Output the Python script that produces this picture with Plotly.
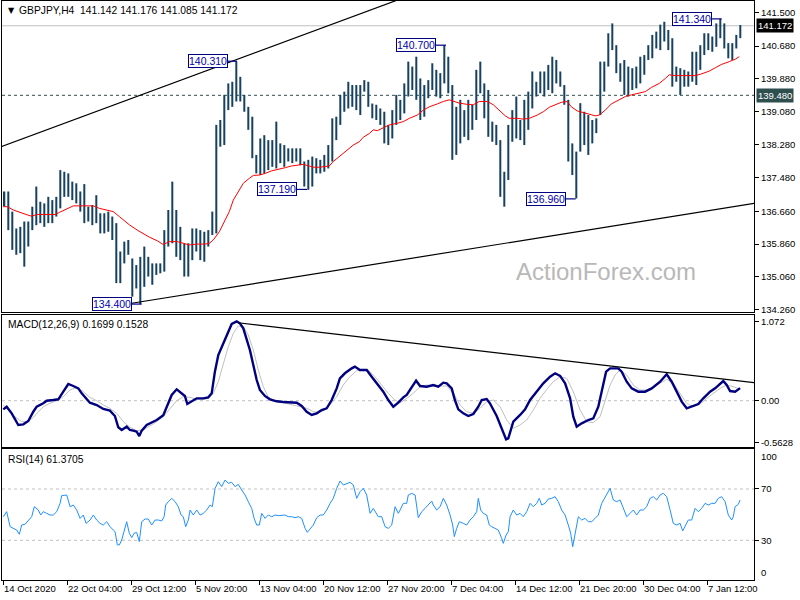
import plotly.graph_objects as go

# ---------------- data ----------------
# GBPJPY H4, each entry = one group of two consecutive H4 bars (high / low)
bar_high = [
    137.14, 137.14, 136.65, 136.24, 136.28, 136.41, 136.41, 136.77, 137.26, 136.89,
    136.85, 137.01, 136.93, 137.01, 137.66, 137.62, 137.58, 137.38, 137.34, 137.14,
    137.32, 136.77, 136.81, 137.05, 136.61, 136.61, 136.65, 136.53, 136.37, 135.68,
    135.92, 135.96, 135.51, 135.35, 135.55, 135.80, 135.55, 135.39, 135.39, 135.39,
    136.20, 136.69, 137.38, 136.69, 136.28, 135.88, 135.88,
    136.24, 136.24, 136.20, 136.16, 136.20, 136.65, 138.76, 138.88, 139.49, 139.77,
    139.81, 140.31, 139.93, 139.49, 139.20, 138.96, 138.03, 138.43, 138.51, 138.39,
    138.39, 138.84, 138.31, 138.27, 138.19, 138.19, 138.19, 138.19, 137.87, 137.91,
    137.99, 137.95, 137.91, 138.03, 138.27, 138.92, 138.96, 139.49, 139.57, 139.81,
    139.73, 139.73, 139.73, 139.85, 139.81, 139.28,
    139.25, 139.16, 139.08, 138.76, 139.12, 139.49, 139.37, 139.77, 140.30, 140.18,
    140.42, 139.89, 139.73, 139.85, 140.26, 140.10, 140.02, 140.70, 140.42, 139.73,
    139.20, 139.37, 139.12, 139.37, 139.25, 140.10, 140.30, 139.77, 139.61, 138.84,
    138.76, 138.39, 137.62, 138.76, 139.12, 139.45, 138.88, 139.37, 139.57, 140.06,
    139.81, 140.06, 140.06, 140.22, 140.42, 140.34,
    140.06,
    139.73, 139.37, 138.31, 138.11, 139.29, 139.08, 139.00, 138.88, 138.92, 140.30,
    140.30, 140.99, 141.23, 140.70, 140.26, 140.34, 140.18, 140.14, 140.18, 140.42,
    140.46, 140.70, 140.95, 141.03, 141.20, 141.27, 141.07, 140.87, 140.18, 140.14,
    140.10, 140.06, 140.54, 140.54, 140.70, 140.99, 140.99, 140.91, 141.23, 141.34,
    141.23, 140.75, 140.75, 140.95, 141.19,
]
bar_low = [
    136.77, 136.20, 135.72, 135.60, 135.64, 135.31, 135.80, 136.20, 136.32, 136.37,
    136.28, 136.37, 136.37, 136.53, 136.73, 137.01, 137.01, 136.93, 136.85, 136.65,
    136.37, 136.41, 136.32, 136.37, 136.12, 136.12, 136.16, 135.96, 134.91, 134.91,
    135.39, 135.60, 134.58, 134.78, 134.40, 134.82, 135.07, 134.87, 135.11, 135.15,
    135.19, 135.80, 135.88, 135.55, 135.47, 135.07, 135.07,
    135.47, 135.68, 135.47, 135.43, 135.80, 136.08, 136.12, 138.23, 138.27, 139.12,
    139.20, 139.33, 139.33, 139.08, 138.64, 137.95, 137.58, 137.54, 137.58, 137.66,
    137.74, 137.70, 137.83, 137.74, 137.87, 137.83, 137.87, 137.78, 137.26, 137.18,
    137.26, 137.58, 137.58, 137.62, 137.70, 137.87, 138.39, 138.76, 139.08, 139.16,
    139.20, 139.12, 139.00, 139.57, 139.20, 138.92,
    138.88, 138.76, 138.31, 138.27, 138.43, 138.76, 138.88, 139.04, 139.45, 139.61,
    139.37, 138.88, 138.96, 139.41, 139.61, 139.45, 139.41, 139.77, 139.53, 137.91,
    138.03, 138.31, 138.47, 138.39, 138.64, 138.88, 139.53, 138.92, 138.47, 138.35,
    138.27, 137.01, 136.77, 137.42, 138.35, 138.43, 138.39, 138.27, 138.64, 139.16,
    139.45, 139.53, 139.45, 139.61, 139.53, 139.77,
    139.69,
    139.25, 137.87, 137.54, 136.97, 138.11, 138.27, 138.03, 138.31, 138.56, 139.00,
    139.57, 140.18, 140.58, 140.02, 139.81, 139.49, 139.45, 139.61, 139.65, 139.77,
    139.98, 140.34, 140.38, 140.62, 140.58, 140.79, 140.58, 139.69, 139.81, 139.49,
    139.69, 139.69, 139.81, 139.73, 140.10, 140.46, 140.58, 140.54, 140.66, 140.87,
    140.62, 140.38, 140.34, 140.62, 140.87,
]

# moving average (red) : bar index, price
ma_x = [0, 2, 5, 8, 12, 14, 17, 20, 23, 26, 28, 32, 35, 38, 42, 45, 48, 52, 55, 58,
        60, 63, 67, 70, 73, 77, 80, 83, 87, 90, 93, 97, 101, 103, 105, 108, 110, 113, 115, 118,
        120, 123, 125, 128, 131, 134, 138, 141, 144, 148, 150, 153, 155, 158, 160, 163, 165, 168, 170, 173,
        175, 178, 180, 183, 185, 187, 190, 193, 197, 200, 203, 207, 210, 213, 217, 220, 223, 226, 228, 232,
        235, 238, 242, 245, 248, 251, 253, 257, 260, 263, 267, 270, 273, 277, 279, 282, 284, 287, 289, 293,
        296, 298, 301, 304, 308, 311, 314, 318, 321, 324, 328, 331, 333, 336, 339, 343, 346, 349, 353, 356,
        359, 363, 366, 368]
ma_vals = [136.77, 136.77, 136.69, 136.63, 136.57, 136.54, 136.58, 136.58, 136.58, 136.58,
           136.63, 136.73, 136.79, 136.79, 136.79, 136.79, 136.73, 136.69, 136.65, 136.53,
           136.45, 136.33, 136.20, 136.11, 136.03, 135.94, 135.85, 135.92, 135.92, 135.88,
           135.84, 135.86, 135.86, 135.88, 135.96, 136.16, 136.37, 136.65, 136.93, 137.18,
           137.34, 137.46, 137.53, 137.54, 137.58, 137.64, 137.68, 137.72, 137.76, 137.78,
           137.80, 137.76, 137.73, 137.73, 137.74, 137.76, 137.87, 137.99, 138.07, 138.17,
           138.27, 138.35, 138.46, 138.55, 138.64, 138.62, 138.69, 138.76, 138.80, 138.84,
           138.92, 139.00, 139.12, 139.20, 139.27, 139.33, 139.37, 139.33, 139.29, 139.26,
           139.25, 139.33, 139.33, 139.25, 139.12, 138.98, 138.92, 138.92, 138.90, 138.92,
           139.00, 139.08, 139.19, 139.26, 139.31, 139.33, 139.20, 139.10, 139.07, 139.02,
           138.98, 139.00, 139.12, 139.27, 139.37, 139.45, 139.49, 139.53, 139.57, 139.67,
           139.77, 139.89, 139.98, 139.96, 139.96, 139.95, 139.96, 140.00, 140.07, 140.15,
           140.23, 140.30, 140.36, 140.42]

# MACD(12,26,9) main line
macd_x = [0, 1.7, 4.2, 7.5, 10, 12.5, 15, 16.7, 20, 21.7, 25, 27.5, 30, 32.5, 35, 37.5, 39.2, 41.7, 43.3, 46.7,
          50, 53.3, 55.8, 57.5, 59.2, 61.7, 63.3, 65, 66.7, 68, 69.2, 71.7, 74.2, 76.7, 80, 81.7, 84.2, 86.7, 89.2, 90.8,
          92, 94.2, 96.7, 100, 102.5, 104.2, 105.8, 107.5, 110, 111.7, 114.2, 116.7, 118.3, 120, 121.7, 123.3, 125, 126.7, 128.3, 130.8,
          133.3, 136.7, 140, 143.3, 146.7, 149.2, 151.7, 154.2, 156.7, 159.2, 161.7, 164.2, 166.7, 168.3, 170.8, 174.2, 175.8, 178.3, 181.7, 184.2,
          186.7, 190, 192.5, 195, 197.5, 200, 201.7, 204.2, 206.4, 208.4, 211.7, 215, 217.5, 220, 221.7, 224.2, 225.8, 227.5, 230, 232.5,
          235, 237.5, 239.2, 241.7, 243.3, 246.7, 249.2, 251.4, 252.5, 255, 258.4, 260.9, 263.4, 266.7, 270, 273.4, 275.9, 278.4, 280.9, 283.4,
          285, 286.7, 289.2, 292.5, 295, 297.5, 299.2, 301.4, 303.4, 307.5, 309.2, 311.7, 314.2, 317.5, 320.9, 324.2, 328.4, 331.7, 334.2, 336.7,
          339.2, 341.7, 344.2, 347.5, 350, 353.4, 355.9, 358.4, 360, 361.7, 363.4, 365.9, 368.4]
macd_main = [-0.117, -0.081, -0.171, -0.329, -0.320, -0.275, -0.149, -0.081, -0.035, 0.000, 0.009, 0.019, 0.122, 0.226, 0.199, 0.167, 0.100, 0.019, -0.027, -0.058,
             -0.112, -0.135, -0.207, -0.360, -0.396, -0.351, -0.396, -0.405, -0.419, -0.478, -0.405, -0.329, -0.297, -0.261, -0.198, -0.081, 0.077, 0.154, 0.100, 0.064,
             -0.045, -0.013, 0.032, 0.032, 0.045, 0.100, 0.393, 0.618, 0.776, 0.889, 1.038, 1.072, 1.047, 0.979, 0.844, 0.686, 0.483, 0.280, 0.145, 0.064,
             0.019, -0.008, -0.017, -0.027, -0.027, -0.072, -0.149, -0.193, -0.171, -0.126, -0.103, 0.009, 0.167, 0.303, 0.371, 0.438, 0.461, 0.415, 0.415, 0.325,
             0.235, 0.122, 0.009, -0.081, -0.027, 0.045, 0.077, 0.190, 0.271, 0.199, 0.190, 0.212, 0.190, 0.244, 0.235, 0.167, 0.009, -0.117, -0.171, -0.207,
             -0.180, -0.081, 0.009, 0.023, -0.035, -0.207, -0.374, -0.523, -0.509, -0.284, -0.193, -0.117, 0.009, 0.122, 0.235, 0.325, 0.371, 0.335, 0.235, 0.032,
             -0.216, -0.351, -0.306, -0.261, -0.239, -0.081, 0.145, 0.393, 0.438, 0.438, 0.393, 0.257, 0.167, 0.122, 0.122, 0.167, 0.257, 0.357, 0.257, 0.122,
             -0.013, -0.103, -0.081, -0.045, 0.032, 0.122, 0.167, 0.226, 0.266, 0.212, 0.131, 0.122, 0.170]

# MACD signal line
sig_x = [0, 2.5, 5.8, 9.2, 12.5, 15, 17.5, 20, 23.3, 26.7, 30, 33.3, 36.7, 40, 43.3, 46.7, 50, 53.3, 56.7, 60,
         63.3, 66.7, 70, 73.3, 76.7, 80, 83.3, 86.7, 90, 93.3, 96.7, 100, 102.5, 105, 107.5, 110, 112.5, 115, 117.5, 120,
         122.5, 125, 127.5, 130, 132.5, 135.8, 140, 144.2, 148.3, 151.7, 155, 157.5, 160.8, 163.3, 166.7, 170, 173.3, 176.7, 180, 182.5,
         185.8, 189.2, 192.5, 195.8, 198.4, 201.7, 205, 208.4, 211.7, 215, 218.4, 221.7, 225, 228.4, 231.7, 235, 238.4, 241.7, 245, 248.4,
         251.7, 255, 258.4, 261.7, 265, 268.4, 271.7, 275, 278.4, 281.7, 285, 288.4, 291.7, 295, 298.4, 300.9, 303.4, 305.9, 308.4, 311.7,
         315, 318.4, 321.7, 325, 328.4, 331.7, 335, 338.4, 341.7, 345, 348.4, 351.7, 355, 358.4, 361.7, 365, 368.4]
sig_vals = [-0.058, -0.126, -0.216, -0.284, -0.284, -0.225, -0.149, -0.081, -0.035, 0.000, 0.054, 0.145, 0.181, 0.122, 0.045, 0.000, -0.058, -0.103, -0.171, -0.284,
            -0.360, -0.405, -0.396, -0.342, -0.284, -0.216, -0.103, 0.000, 0.054, 0.045, 0.019, 0.019, 0.032, 0.100, 0.258, 0.506, 0.731, 0.912, 1.011, 1.002,
            0.889, 0.686, 0.415, 0.190, 0.045, 0.000, -0.027, -0.045, -0.072, -0.103, -0.149, -0.162, -0.126, -0.058, 0.054, 0.212, 0.325, 0.406, 0.424, 0.415,
            0.325, 0.212, 0.100, 0.009, -0.030, 0.032, 0.100, 0.190, 0.212, 0.199, 0.199, 0.199, 0.100, -0.058, -0.149, -0.171, -0.103, -0.013, 0.009, -0.081,
            -0.261, -0.374, -0.329, -0.261, -0.126, 0.032, 0.154, 0.258, 0.325, 0.303, 0.122, -0.126, -0.284, -0.297, -0.216, -0.013, 0.212, 0.348, 0.415, 0.348,
            0.212, 0.145, 0.145, 0.181, 0.235, 0.289, 0.235, 0.100, -0.035, -0.081, -0.045, 0.032, 0.100, 0.167, 0.212, 0.190, 0.153]

# RSI(14)
rsi_x = [0, 1.7, 3.4, 5, 6.7, 8, 9.2, 10.9, 12.5, 14.2, 15.5, 17.5, 18.7, 20, 21.7, 23.4, 25, 26.7, 28.4, 29.2,
         31.7, 33.4, 35, 36.7, 38.4, 40, 41.4, 43.4, 45, 46.7, 48.4, 50, 51.7, 53.4, 55, 55.9, 57, 58, 59.2, 60.4,
         61.7, 63, 64.2, 65.4, 66.7, 68, 69.2, 70.9, 72.5, 74.2, 75.9, 77.5, 79.2, 80.4, 81.2, 82.5, 84.2, 85.9, 87.5, 88.9,
         90, 91.2, 92.5, 93.4, 95, 96.7, 98.4, 100, 101.7, 103.4, 104.5, 105.9, 107.5, 109.2, 110.9, 112.5, 114.2, 115.9, 117.5, 119.2,
         120.9, 122.5, 124.2, 125.4, 126.7, 128, 129.2, 130.9, 132.5, 134.2, 135.9, 137.5, 139.2, 140.9, 142.5, 144.2, 145.9, 147.5, 149.2, 150.9,
         152, 153.4, 155, 156.7, 158.4, 160, 161.7, 163.4, 165, 166.7, 168.4, 170, 171.7, 173.4, 175, 176.7, 178.4, 180, 181.7, 183.4,
         185, 187.5, 189.2, 190.9, 192.5, 194.2, 195.9, 197.5, 198.4, 200, 201.7, 202.5, 204.2, 205.9, 207.5, 209.2, 210.9, 212.5, 214.2, 215,
         216.7, 218.4, 220, 221.7, 223.4, 224.7, 225.5, 226.7, 228, 230, 231.7, 233.4, 235, 236.7, 237.5, 238.7, 240, 241.7, 243, 244.2,
         245.9, 247.5, 249.2, 250, 251.4, 252.5, 253.4, 255, 256.7, 258.4, 260, 261.7, 263.4, 265, 266.7, 268, 269.2, 270.9, 272.5, 274.2,
         275.9, 277.5, 279.2, 280.9, 282.5, 283.7, 284.7, 285.9, 287.5, 289.2, 290.9, 292.5, 294.2, 295.9, 297.5, 299.2, 300.9, 302.5, 303.4, 305,
         306.7, 308.4, 310, 311.7, 313.4, 315, 316.7, 318.4, 320, 321.7, 323.4, 325, 326.7, 328.4, 330, 331.7, 333.4, 335, 336.7, 338.4,
         339.7, 340.9, 342.5, 344.2, 345.9, 347.5, 349.2, 350.9, 352.5, 354.2, 355.9, 357.5, 359.2, 360.9, 362.5, 364.2, 365, 365.9, 367.5, 368.4]
rsi_vals = [48.4, 52.3, 40.6, 39.3, 38.0, 34.7, 41.9, 42.5, 45.1, 48.4, 56.2, 53.6, 49.7, 52.3, 51.0, 49.7, 49.7, 52.3, 58.8, 64.8,
            65.3, 56.2, 57.5, 53.6, 47.1, 49.7, 43.2, 45.8, 49.7, 45.8, 43.2, 41.9, 44.5, 40.6, 38.0, 36.7, 26.4, 26.4, 30.2, 36.7,
            44.5, 35.5, 32.1, 35.5, 36.2, 29.0, 44.5, 46.6, 46.6, 41.9, 45.8, 45.8, 45.1, 48.4, 57.5, 60.1, 62.7, 60.1, 56.2, 49.7,
            48.4, 40.6, 45.8, 53.6, 49.7, 53.6, 49.7, 51.0, 53.6, 57.5, 56.2, 70.5, 75.7, 71.8, 77.0, 74.4, 75.2, 71.8, 73.6, 69.2,
            65.3, 60.1, 54.9, 47.1, 41.9, 41.9, 51.0, 47.1, 49.7, 48.4, 49.7, 49.2, 49.7, 49.7, 48.4, 48.4, 47.6, 48.4, 47.1, 39.3,
            36.2, 39.3, 41.9, 47.6, 49.7, 49.7, 53.6, 58.8, 62.7, 70.5, 76.2, 73.1, 74.4, 75.2, 73.1, 62.7, 67.9, 70.5, 65.3, 51.0,
            54.9, 48.4, 48.4, 40.6, 39.3, 41.9, 56.2, 51.0, 53.6, 58.8, 58.8, 65.3, 66.6, 65.3, 47.6, 52.3, 54.9, 57.5, 60.6, 57.5,
            53.6, 56.2, 62.7, 57.5, 49.7, 41.9, 32.9, 39.3, 44.5, 43.2, 41.9, 45.8, 48.4, 52.3, 62.7, 53.6, 51.0, 49.7, 41.9, 40.6,
            39.3, 38.0, 31.5, 27.6, 34.1, 36.7, 48.4, 53.6, 49.7, 51.0, 48.4, 52.3, 58.8, 56.2, 58.8, 62.7, 57.5, 58.8, 62.2, 62.7,
            64.0, 60.1, 53.6, 49.7, 41.9, 35.5, 25.0, 34.1, 48.4, 45.8, 47.1, 44.5, 44.5, 47.1, 49.7, 58.8, 64.0, 67.9, 70.5, 61.4,
            60.1, 61.4, 54.9, 48.4, 51.0, 53.6, 49.7, 53.6, 53.6, 56.2, 62.7, 64.0, 61.4, 65.3, 66.6, 64.0, 53.6, 43.2, 41.9, 43.2,
            37.3, 40.6, 45.8, 45.8, 54.9, 52.3, 54.9, 58.8, 57.5, 58.8, 58.8, 62.7, 64.0, 60.1, 49.7, 45.8, 48.4, 56.2, 58.0, 61.37]

# date axis (H4 bar index of each label)
date_ticks = [0, 32, 64, 96, 128, 160, 192, 224, 256, 288, 320, 352]
date_labels = ["14 Oct 2020", "22 Oct 04:00", "29 Oct 12:00", "5 Nov 20:00", "13 Nov 04:00",
               "20 Nov 12:00", "27 Nov 20:00", "7 Dec 04:00", "14 Dec 12:00", "21 Dec 20:00",
               "30 Dec 04:00", "7 Jan 12:00"]

price_ticks = [141.5, 140.68, 139.88, 139.08, 138.28, 137.48, 136.66, 135.86, 135.06, 134.26]
macd_ticks = [1.072, 0.0, -0.5628]
macd_tick_text = ["1.072", "0.00", "-0.5628"]
rsi_levels = [70, 30]
rsi_edge_labels = ["100", "0"]

last_price = 141.172
level_price = 139.48
header_text = "GBPJPY,H4  141.142 141.176 141.085 141.172"
macd_text = "MACD(12,26,9) 0.1699 0.1528"
rsi_text = "RSI(14) 61.3705"

# trend lines: (bar index, value)
upper_tl_x = [-1, 200]
upper_tl_y = [138.229, 141.851]
lower_tl_x = [64.2, 376]
lower_tl_y = [134.42, 136.858]
macd_tl_x = [117.35, 376]
macd_tl_y = [1.055, 0.2416]

# swing labels: text, value, bar index of the extreme, bar index of the label box edge
swing_labels = [
    ("140.310", 140.31, 116.85, 112.35),
    ("140.700", 140.70, 221.35, 216.2),
    ("141.340", 141.34, 359.2, 354.35),
    ("137.190", 137.19, 151.85, 146.85),
    ("134.400", 134.40, 69.2, 64.2),
    ("136.960", 136.96, 286.2, 281.35),
]

# ---------------- figure ----------------
FONT = "Liberation Sans"
W, H = 800, 600
ML, MR, MT, MB = 2, 46, 1, 20
PW, PH = W - ML - MR, H - MT - MB


def px_x(px):
    return (px - ML) / PW


def px_y(py):
    return (H - MB - py) / PH


bar_x = [2 * j + 0.5 for j in range(len(bar_high))]
bar_len = [h - l for h, l in zip(bar_high, bar_low)]

fig = go.Figure()

fig.add_trace(go.Bar(x=bar_x, y=bar_len, base=bar_low, width=1.0,
                     marker=dict(color="#17425F", line=dict(width=0)),
                     xaxis="x", yaxis="y", hoverinfo="skip"))
fig.add_trace(go.Scatter(x=ma_x, y=ma_vals, mode="lines", line=dict(color="#FF0000", width=1),
                         xaxis="x", yaxis="y"))
for tx, ty in [(upper_tl_x, upper_tl_y), (lower_tl_x, lower_tl_y)]:
    fig.add_trace(go.Scatter(x=tx, y=ty, mode="lines", line=dict(color="#000000", width=1.2),
                             xaxis="x", yaxis="y"))

for text, val, bx, lx in swing_labels:
    fig.add_trace(go.Scatter(x=[lx, bx], y=[val, val], mode="lines",
                             line=dict(color="#000080", width=1.2), xaxis="x", yaxis="y"))

fig.add_trace(go.Scatter(x=sig_x, y=sig_vals, mode="lines", line=dict(color="#C0C0C0", width=1),
                         xaxis="x2", yaxis="y2"))
fig.add_trace(go.Scatter(x=macd_x, y=macd_main, mode="lines", line=dict(color="#000080", width=2.4),
                         xaxis="x2", yaxis="y2"))
fig.add_trace(go.Scatter(x=macd_tl_x, y=macd_tl_y, mode="lines", line=dict(color="#000000", width=1.2),
                         xaxis="x2", yaxis="y2"))

fig.add_trace(go.Scatter(x=rsi_x, y=rsi_vals, mode="lines", line=dict(color="#1E90FF", width=1),
                         xaxis="x3", yaxis="y3"))

TICKFONT = dict(family=FONT, size=9.5, color="#000000")
xr = [(ML - 3.3) / 2, (W - MR - 3.3) / 2]
ax_common = dict(range=xr, showgrid=False, zeroline=False, showline=True, mirror=True,
                 linecolor="#000000", linewidth=1)
y_common = dict(showgrid=False, zeroline=False, showline=True, mirror=True, linecolor="#000000",
                linewidth=1, side="right", ticks="outside", ticklen=4, tickcolor="#000000",
                tickfont=TICKFONT)

main_range = [134.208, 141.775]
rsi_range = [-0.935, 101.17]

fig.update_layout(
    width=W, height=H, margin=dict(l=ML, r=MR, t=MT, b=MB),
    paper_bgcolor="#FFFFFF", plot_bgcolor="#FFFFFF", showlegend=False,
    barmode="overlay", font=dict(family=FONT, size=10, color="#000000"),
    xaxis=dict(ax_common, anchor="y", domain=[0, 1], showticklabels=False, ticks=""),
    xaxis2=dict(ax_common, anchor="y2", domain=[0, 1], showticklabels=False, ticks="", matches="x"),
    xaxis3=dict(ax_common, anchor="y3", domain=[0, 1], showticklabels=False, ticks="outside",
                ticklen=4, tickcolor="#000000", tickvals=date_ticks, matches="x"),
    yaxis=dict(y_common, anchor="x", domain=[0.4629, 1.0], range=main_range,
               tickvals=price_ticks, ticktext=[f"{v:.3f}" for v in price_ticks]),
    yaxis2=dict(y_common, anchor="x2", domain=[0.2297, 0.4577], range=[-0.6265, 1.1597],
                tickvals=macd_ticks, ticktext=macd_tick_text),
    yaxis3=dict(y_common, anchor="x3", domain=[0.0, 0.2263], range=rsi_range,
                tickvals=rsi_levels, ticktext=[str(v) for v in rsi_levels]),
)

shapes = [
    dict(type="line", xref="x domain", x0=0, x1=1, yref="y", y0=last_price, y1=last_price,
         line=dict(color="#C0C0C0", width=1), layer="below"),
    dict(type="line", xref="x domain", x0=0, x1=1, yref="y", y0=level_price, y1=level_price,
         line=dict(color="#2F4F4F", width=1, dash="3px,3px"), layer="below"),
    dict(type="line", xref="x2 domain", x0=0, x1=1, yref="y2", y0=0, y1=0,
         line=dict(color="#C0C0C0", width=1, dash="3px,3px"), layer="below"),
]
for lvl in rsi_levels:
    shapes.append(dict(type="line", xref="x3 domain", x0=0, x1=1, yref="y3", y0=lvl, y1=lvl,
                       line=dict(color="#C0C0C0", width=1, dash="3px,3px"), layer="below"))
fig.update_layout(shapes=shapes)

ann = []
for text, val, bx, lx in swing_labels:
    ann.append(dict(x=lx, y=val, xref="x", yref="y", text=text, showarrow=False,
                    xanchor="right", yanchor="middle", font=dict(family=FONT, size=10.5, color="#0000B0"),
                    bgcolor="#FFFFFF", bordercolor="#000080", borderwidth=1, borderpad=0))

ann.append(dict(x=1, y=last_price, xref="paper", yref="y", text=f"{last_price:.3f}", showarrow=False,
                xanchor="left", yanchor="middle", xshift=2, bgcolor="#000000",
                font=dict(family=FONT, size=9.5, color="#FFFFFF"), borderpad=1))
ann.append(dict(x=1, y=level_price, xref="paper", yref="y", text=f"{level_price:.3f}", showarrow=False,
                xanchor="left", yanchor="middle", xshift=2, bgcolor="#2F4F4F",
                font=dict(family=FONT, size=9.5, color="#FFFFFF"), borderpad=1))

# RSI 100 / 0 scale labels sit just inside the panel edges, as in the terminal
ann.append(dict(x=1, y=px_y(456.7), xref="paper", yref="paper", text=rsi_edge_labels[0], showarrow=False,
                xanchor="left", yanchor="middle", xshift=5, font=TICKFONT))
ann.append(dict(x=1, y=px_y(572.7), xref="paper", yref="paper", text=rsi_edge_labels[1], showarrow=False,
                xanchor="left", yanchor="middle", xshift=5, font=TICKFONT))

ann.append(dict(x=px_x(6), y=px_y(10.5), xref="paper", yref="paper", text="▼", showarrow=False,
                xanchor="left", yanchor="middle", font=dict(family="DejaVu Sans", size=8, color="#000000")))
ann.append(dict(x=px_x(17), y=px_y(10.5), xref="paper", yref="paper", text=header_text, showarrow=False,
                xanchor="left", yanchor="middle", font=dict(family=FONT, size=10.3, color="#000000")))
ann.append(dict(x=px_x(6), y=px_y(324), xref="paper", yref="paper", text=macd_text, showarrow=False,
                xanchor="left", yanchor="middle", font=dict(family=FONT, size=10.3, color="#000000")))
ann.append(dict(x=px_x(6), y=px_y(459), xref="paper", yref="paper", text=rsi_text, showarrow=False,
                xanchor="left", yanchor="middle", font=dict(family=FONT, size=10.3, color="#000000")))
ann.append(dict(x=px_x(606), y=px_y(271), xref="paper", yref="paper", text="ActionForex.com", showarrow=False,
                xanchor="center", yanchor="middle", font=dict(family=FONT, size=24, color="#B8B8B8")))

for tv, tl in zip(date_ticks, date_labels):
    ann.append(dict(x=tv, y=px_y(588), xref="x3", yref="paper", text=tl, showarrow=False,
                    xanchor="left", yanchor="middle", xshift=-1, font=TICKFONT))

fig.update_layout(annotations=ann)

fig.write_html(
    "out.html",
    config={"displayModeBar": False},
    post_script="document.body.style.margin='0';document.body.style.padding='0';"
                "document.body.style.overflow='hidden';",
)
